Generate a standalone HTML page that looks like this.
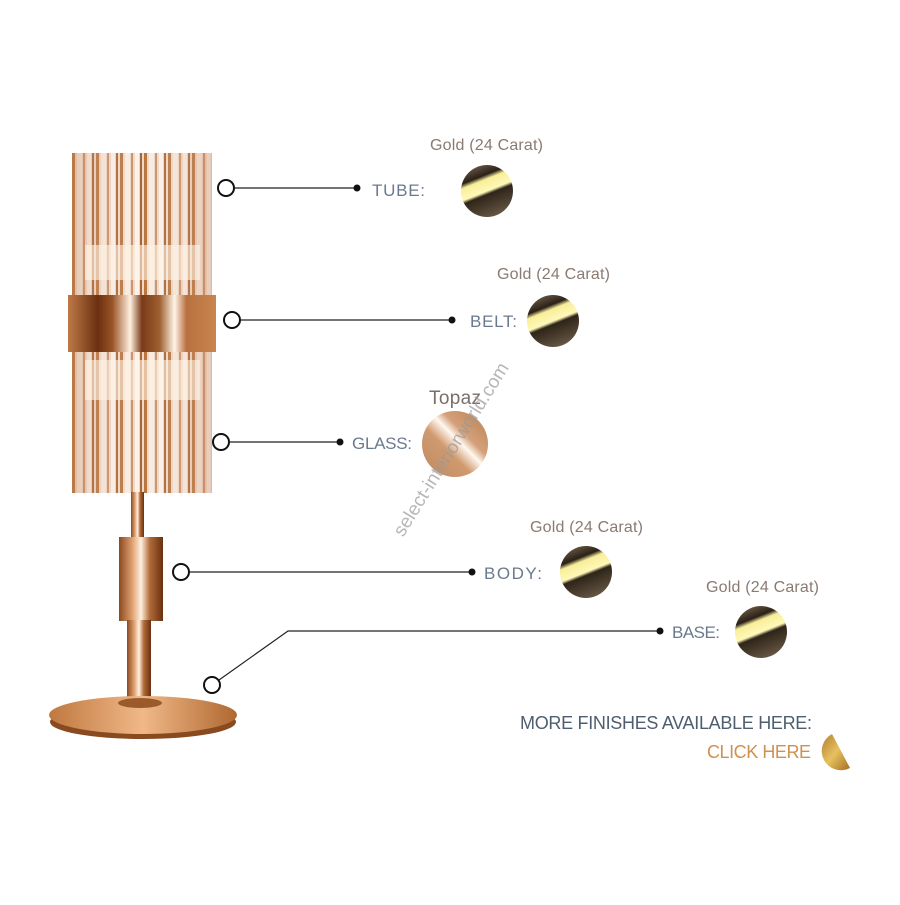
<!DOCTYPE html>
<html><head><meta charset="utf-8"><style>
body{margin:0;background:#fff;}
svg text{font-family:"Liberation Sans",sans-serif;}
</style></head><body>
<svg width="900" height="900" viewBox="0 0 900 900" xmlns="http://www.w3.org/2000/svg">
<defs>
<pattern id="rods" x="72" y="0" width="24" height="10" patternUnits="userSpaceOnUse">
<rect width="24" height="10" fill="#efd8c6"/>
<rect x="0" width="3" height="10" fill="#b8743e"/>
<rect x="5" width="5" height="10" fill="#f8ece2"/>
<rect x="11" width="2" height="10" fill="#c8906a"/>
<rect x="15" width="4" height="10" fill="#fbf2ea"/>
<rect x="20" width="2" height="10" fill="#a86434"/>
</pattern>
<linearGradient id="shade" x1="0" x2="1">
<stop offset="0" stop-color="#c08058" stop-opacity="0.35"/><stop offset="0.5" stop-color="#fff" stop-opacity="0"/><stop offset="1" stop-color="#c08058" stop-opacity="0.35"/></linearGradient>
<linearGradient id="belt" x1="0" x2="1">
<stop offset="0" stop-color="#c07a48"/><stop offset="0.2" stop-color="#6a3010"/><stop offset="0.3" stop-color="#9a5428"/>
<stop offset="0.42" stop-color="#fff0e0"/><stop offset="0.5" stop-color="#7a3a18"/><stop offset="0.62" stop-color="#a06030"/>
<stop offset="0.72" stop-color="#fff4e8"/><stop offset="0.8" stop-color="#b87040"/><stop offset="1" stop-color="#c8864e"/></linearGradient>
<linearGradient id="metal" x1="0" x2="1">
<stop offset="0" stop-color="#8a4a20"/><stop offset="0.3" stop-color="#e0a070"/><stop offset="0.5" stop-color="#fff0e0"/>
<stop offset="0.7" stop-color="#b06a38"/><stop offset="1" stop-color="#6a3010"/></linearGradient>
<linearGradient id="basegr" x1="0" x2="1">
<stop offset="0" stop-color="#c07840"/><stop offset="0.5" stop-color="#f0b888"/><stop offset="1" stop-color="#b06830"/></linearGradient>
<linearGradient id="gold" x1="0.3" y1="0" x2="0.7" y2="1">
<stop offset="0" stop-color="#6a5a48"/><stop offset="0.22" stop-color="#2a2016"/><stop offset="0.3" stop-color="#f8ee9a"/>
<stop offset="0.5" stop-color="#fff8b8"/><stop offset="0.56" stop-color="#2e2418"/><stop offset="1" stop-color="#6a5a48"/></linearGradient>
<linearGradient id="topaz" x1="0" y1="1" x2="1" y2="0">
<stop offset="0" stop-color="#c08a60"/><stop offset="0.4" stop-color="#d09a70"/><stop offset="0.55" stop-color="#fff8f0"/>
<stop offset="0.65" stop-color="#d4a07a"/><stop offset="1" stop-color="#b88050"/></linearGradient>
<linearGradient id="click" x1="0" y1="0" x2="1" y2="1">
<stop offset="0" stop-color="#b08030"/><stop offset="0.5" stop-color="#e8c060"/><stop offset="1" stop-color="#a07020"/></linearGradient>
</defs>

<rect x="72" y="153" width="140" height="340" fill="url(#rods)"/>
<rect x="72" y="153" width="140" height="340" fill="url(#shade)"/>
<rect x="85" y="245" width="115" height="35" fill="#fff4e4" opacity="0.6"/>
<rect x="85" y="360" width="115" height="40" fill="#fff4e4" opacity="0.6"/>
<rect x="68" y="295" width="148" height="57" fill="url(#belt)"/>
<rect x="131" y="492" width="13" height="48" fill="url(#metal)"/>
<rect x="119" y="537" width="44" height="84" fill="url(#metal)"/>
<rect x="127" y="620" width="24" height="85" fill="url(#metal)"/>
<ellipse cx="143" cy="722" rx="93" ry="17" fill="#8a4a20"/>
<ellipse cx="143" cy="715" rx="94" ry="19" fill="url(#basegr)"/>
<ellipse cx="140" cy="703" rx="22" ry="5" fill="#9a5a2a"/>

<g stroke="#222" stroke-width="1.2" fill="none">
<line x1="234" y1="188" x2="357" y2="188"/>
<line x1="241" y1="320" x2="452" y2="320"/>
<line x1="230" y1="442" x2="340" y2="442"/>
<line x1="190" y1="572" x2="472" y2="572"/>
<polyline points="219,680 288,631 660,631"/>
</g>
<g stroke="#111" stroke-width="2" fill="#fff">
<circle cx="226" cy="188" r="8"/><circle cx="232" cy="320" r="8"/><circle cx="221" cy="442" r="8"/>
<circle cx="181" cy="572" r="8"/><circle cx="212" cy="685" r="8"/>
</g>
<g fill="#111"><circle cx="357" cy="188" r="3.5"/><circle cx="452" cy="320" r="3.5"/><circle cx="340" cy="442" r="3.5"/>
<circle cx="472" cy="572" r="3.5"/><circle cx="660" cy="631" r="3.5"/></g>

<g font-size="17" fill="#6a7a8e">
<text x="372" y="196" textLength="53">TUBE:</text><text x="470" y="327" textLength="47">BELT:</text><text x="352" y="449" textLength="60">GLASS:</text>
<text x="484" y="579" textLength="58">BODY:</text><text x="672" y="638" textLength="48">BASE:</text>
</g>
<g font-size="16" fill="#8a7a70">
<text x="430" y="150" textLength="113">Gold (24 Carat)</text><text x="497" y="279" textLength="113">Gold (24 Carat)</text>
<text x="530" y="532" textLength="113">Gold (24 Carat)</text><text x="706" y="592" textLength="113">Gold (24 Carat)</text>
</g>
<text x="429" y="404" font-size="19" fill="#7a6e6a" textLength="52">Topaz</text>

<circle cx="487" cy="191" r="26" fill="url(#gold)"/>
<circle cx="553" cy="321" r="26" fill="url(#gold)"/>
<circle cx="455" cy="444" r="33" fill="url(#topaz)"/>
<circle cx="586" cy="572" r="26" fill="url(#gold)"/>
<circle cx="761" cy="632" r="26" fill="url(#gold)"/>

<text x="452" y="455" font-size="19" fill="#999" opacity="0.7" text-anchor="middle" transform="rotate(-58 452 450)">select-interiorworld.com</text>

<text x="520" y="729" font-size="18" fill="#4e5e70" textLength="292">MORE FINISHES AVAILABLE HERE:</text>
<text x="707" y="758" font-size="18" fill="#d09050" textLength="104">CLICK HERE</text>
<path d="M832,734 A17,17 0 1 0 850,768 Z" fill="url(#click)"/>
</svg>
</body></html>
